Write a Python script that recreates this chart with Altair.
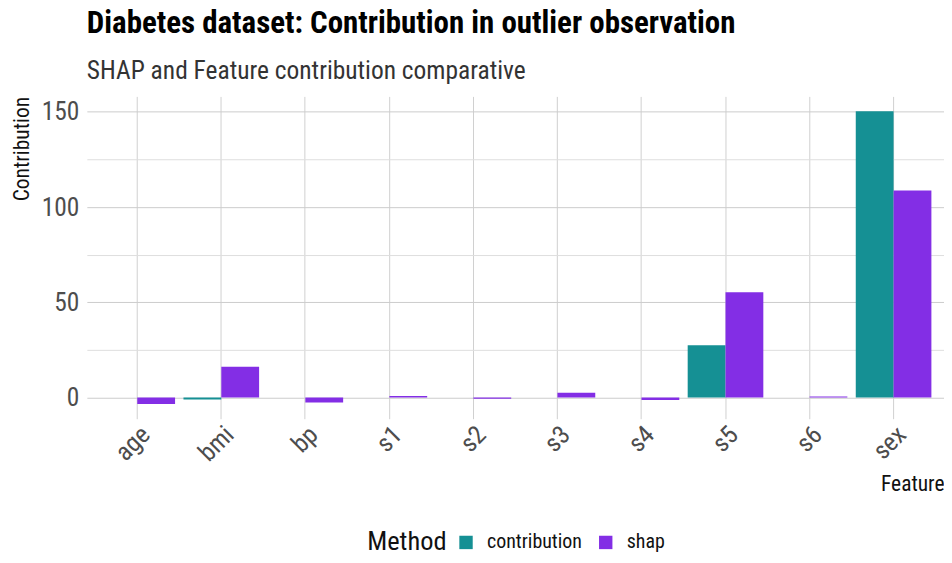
import altair as alt
import pandas as pd

features = ["age", "bmi", "bp", "s1", "s2", "s3", "s4", "s5", "s6", "sex"]
contribution = [0.0, -1.0, 0.0, 0.0, 0.0, 0.0, 0.0, 27.5, 0.0, 150.3]
shap = [-3.4, 16.2, -2.6, 0.8, -0.6, 2.5, -1.3, 55.3, 0.5, 108.7]
methods = ["contribution", "shap"]
colors = ["#159094", "#832EE5"]
y_ticks = [0, 25, 50, 75, 100, 125, 150]

rows = []
for f, c, s in zip(features, contribution, shap):
    rows.append({"Feature": f, "Method": "contribution", "Contribution": c})
    rows.append({"Feature": f, "Method": "shap", "Contribution": s})
df = pd.DataFrame(rows)

FONT = "Roboto Condensed, Liberation Sans Narrow, Roboto"

chart = alt.Chart(df).mark_bar().encode(
    x=alt.X(
        "Feature:N", sort=features,
        scale=alt.Scale(paddingInner=0.1, paddingOuter=0.15),
        axis=alt.Axis(
            title="Feature", titleFontSize=21.5, titleFontWeight="normal", titleColor="#111",
            titleAlign="right", titleAnchor="end", titleX=859, titleY=66, titleBaseline="middle",
            labelAngle=-45, labelAlign="right", labelBaseline="top", labelFontSize=25.5,
            labelColor="#4d4d4d", labelPadding=3, ticks=False, domain=False,
            grid=True, gridColor="#d0d0d0", gridWidth=1, bandPosition=0.5,
        ),
    ),
    xOffset=alt.XOffset("Method:N", sort=methods, scale=alt.Scale(paddingInner=0, paddingOuter=0)),
    y=alt.Y(
        "Contribution:Q",
        scale=alt.Scale(domain=[-11.1, 158.1], nice=False, zero=False),
        axis=alt.Axis(
            title="Contribution", titleFontSize=21.5, titleFontWeight="normal", titleColor="#111",
            titleAngle=270, titleAlign="right", titleX=-64, titleY=0, titleBaseline="middle",
            values=y_ticks, labelExpr="datum.value % 50 === 0 ? datum.label : ''",
            labelFontSize=25.5, labelColor="#4d4d4d", labelPadding=8, ticks=False, domain=False,
            grid=True,
            gridColor={"condition": {"test": "datum.value % 50 === 0", "value": "#cccccc"}, "value": "#dedede"},
            gridWidth=1,
        ),
    ),
    color=alt.Color(
        "Method:N", scale=alt.Scale(domain=methods, range=colors),
        legend=alt.Legend(
            title="Method", orient="none", direction="horizontal", legendX=281, legendY=437,
            titleOrient="left", titleFontSize=26.5, titleFontWeight="normal", titleColor="#111",
            titleBaseline="middle", labelFontSize=20, labelColor="#111", symbolType="square",
            symbolSize=180, symbolStrokeWidth=0, columnPadding=13, labelOffset=11, titlePadding=9,
        ),
    ),
).properties(
    width=859, height=323,
    autosize="none",
    padding={"left": 79, "top": 88, "right": 0, "bottom": 136},
    title=alt.TitleParams(
        text="Diabetes dataset: Contribution in outlier observation",
        subtitle="SHAP and Feature contribution comparative",
        anchor="start", frame="group", fontSize=31, fontWeight="bold", color="#000",
        subtitleFontSize=25.5, subtitleColor="#333", offset=11, subtitlePadding=19,
    ),
).configure(font=FONT).configure_view(stroke=None)

chart.save("out.html", embed_options={"renderer": "svg", "actions": False})
